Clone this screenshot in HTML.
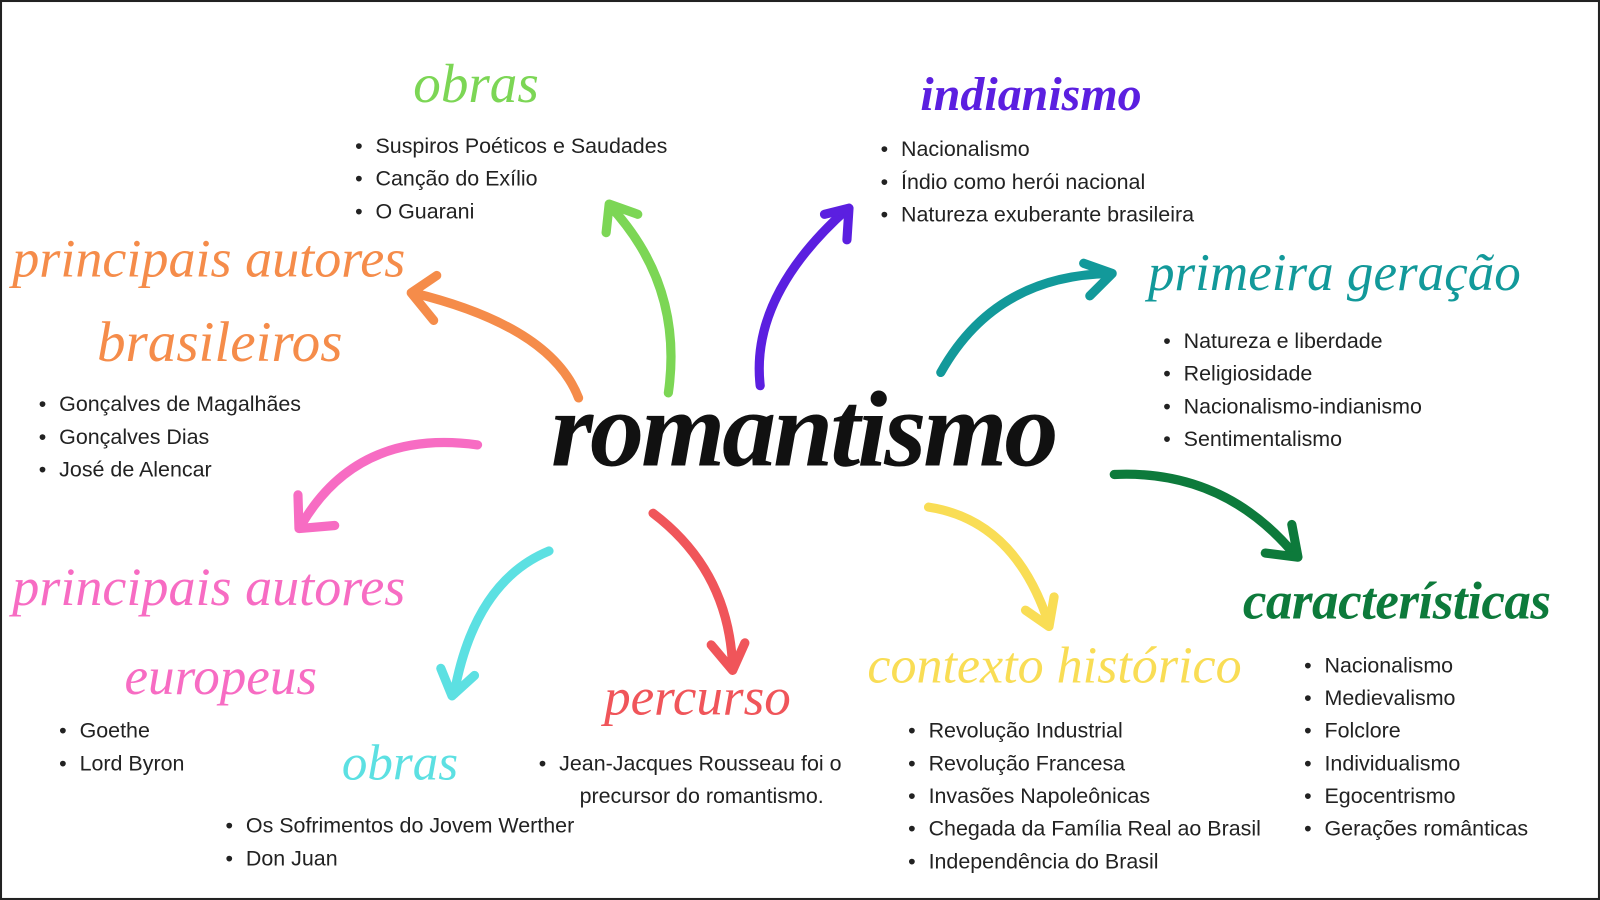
<!DOCTYPE html>
<html><head><meta charset="utf-8">
<style>
html,body{margin:0;padding:0;background:#fff;}
#wrap{width:1568px;height:882px;position:relative;transform:scale(1.0204);transform-origin:0 0;overflow:hidden;background:#fff;}
#frame{position:absolute;left:0;top:0;width:1564px;height:878px;border:2px solid #222;}
.h{position:absolute;font-family:"Liberation Serif",serif;font-style:italic;white-space:nowrap;line-height:1;}
.l{position:absolute;font-family:"Liberation Sans",sans-serif;font-size:21px;color:#222;white-space:nowrap;line-height:32px;margin:0;padding:0;list-style:none;}
.l li::before{content:"•";display:inline-block;width:20px;}
.l li.nb::before{content:"";}
svg{position:absolute;left:0;top:0;}
</style></head><body>
<div id="wrap">
<div id="frame"></div>
<svg width="1568" height="882" fill="none" stroke-linecap="round" stroke-linejoin="round">
 <g stroke-width="9">
  <path d="M567 390 Q540 320 405 287" stroke="#f58c4a"/><path d="M428 270 L403 287 L425 314" stroke="#f58c4a"/>
  <path d="M655 385 Q670 280 598 202" stroke="#7cd655"/><path d="M594 228 L597 200 L625 210" stroke="#7cd655"/>
  <path d="M745 378 Q735 290 830 205" stroke="#5b1fe0"/><path d="M808 210 L832 204 L830 235" stroke="#5b1fe0"/>
  <path d="M922 365 Q975 270 1088 268" stroke="#12999a"/><path d="M1062 258 L1090 268 L1068 290" stroke="#12999a"/>
  <path d="M1092 465 Q1200 460 1270 545" stroke="#0d7a3b"/><path d="M1240 542 L1272 546 L1266 514" stroke="#0d7a3b"/>
  <path d="M910 497 Q995 510 1028 612" stroke="#f9dd55"/><path d="M1005 598 L1028 614 L1033 585" stroke="#f9dd55"/>
  <path d="M640 503 Q715 560 718 655" stroke="#f0555a"/><path d="M697 632 L718 657 L730 630" stroke="#f0555a"/>
  <path d="M538 540 Q465 570 445 680" stroke="#5ce0e2"/><path d="M432 655 L443 682 L465 662" stroke="#5ce0e2"/>
  <path d="M468 436 Q350 420 295 515" stroke="#f76cc3"/><path d="M292 485 L293 518 L328 515" stroke="#f76cc3"/>
 </g>
</svg>
<div class="h" style="left:540px;top:368px;font-size:106px;font-weight:bold;color:#111;letter-spacing:-3px;">romantismo</div>
<div class="h" style="left:405px;top:55px;font-size:54px;color:#7cd655;">obras</div>
<div class="h" style="left:902px;top:70px;font-size:47px;color:#5b1fe0;font-weight:bold;">indianismo</div>
<div class="h" style="left:1125px;top:242px;font-size:52px;color:#12999a;">primeira geração</div>
<div class="h" style="left:12px;top:228px;font-size:53px;color:#f58c4a;">principais autores</div>
<div class="h" style="left:95px;top:308px;font-size:56px;color:#f58c4a;">brasileiros</div>
<div class="h" style="left:12px;top:550px;font-size:53px;color:#f76cc3;">principais autores</div>
<div class="h" style="left:122px;top:638px;font-size:52px;color:#f76cc3;">europeus</div>
<div class="h" style="left:335px;top:722px;font-size:50px;color:#5ce0e2;">obras</div>
<div class="h" style="left:592px;top:658px;font-size:52px;color:#f0555a;">percurso</div>
<div class="h" style="left:850px;top:628px;font-size:51px;color:#f9dd55;">contexto histórico</div>
<div class="h" style="left:1218px;top:564px;font-size:52px;color:#0d7a3b;font-weight:bold;letter-spacing:-0.5px;">características</div>

<ul class="l" style="left:348px;top:128px;"><li>Suspiros Poéticos e Saudades</li><li>Canção do Exílio</li><li>O Guarani</li></ul>
<ul class="l" style="left:863px;top:131px;"><li>Nacionalismo</li><li>Índio como herói nacional</li><li>Natureza exuberante brasileira</li></ul>
<ul class="l" style="left:1140px;top:319px;"><li>Natureza e liberdade</li><li>Religiosidade</li><li>Nacionalismo-indianismo</li><li>Sentimentalismo</li></ul>
<ul class="l" style="left:38px;top:381px;"><li>Gonçalves de Magalhães</li><li>Gonçalves Dias</li><li>José de Alencar</li></ul>
<ul class="l" style="left:58px;top:701px;"><li>Goethe</li><li>Lord Byron</li></ul>
<ul class="l" style="left:221px;top:794px;"><li>Os Sofrimentos do Jovem Werther</li><li>Don Juan</li></ul>
<ul class="l" style="left:528px;top:733px;"><li>Jean-Jacques Rousseau foi o</li><li class="nb" style="padding-left:20px;">precursor do romantismo.</li></ul>
<ul class="l" style="left:890px;top:701px;"><li>Revolução Industrial</li><li>Revolução Francesa</li><li>Invasões Napoleônicas</li><li>Chegada da Família Real ao Brasil</li><li>Independência do Brasil</li></ul>
<ul class="l" style="left:1278px;top:637px;"><li>Nacionalismo</li><li>Medievalismo</li><li>Folclore</li><li>Individualismo</li><li>Egocentrismo</li><li>Gerações românticas</li></ul>
</div>
</body></html>
